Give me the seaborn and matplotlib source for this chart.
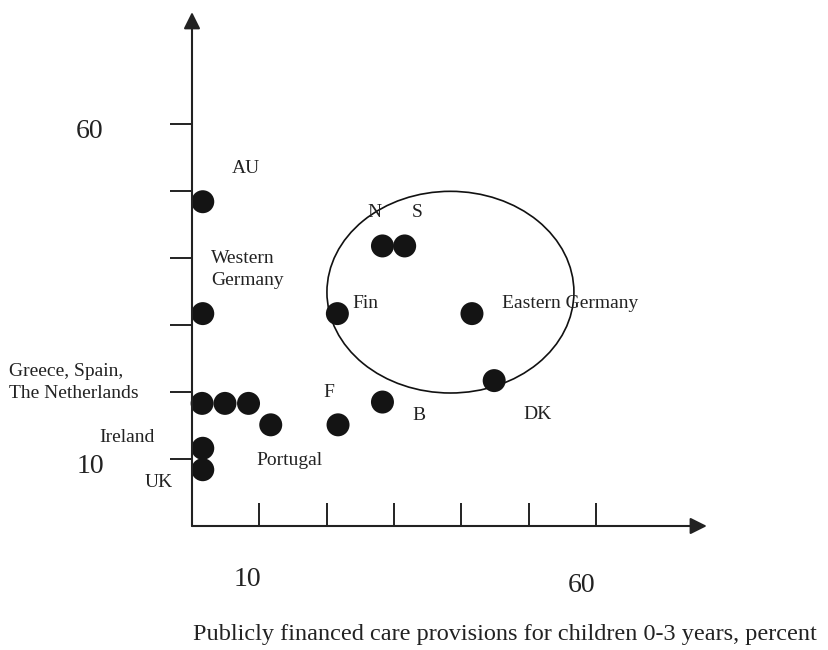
import matplotlib
matplotlib.use("Agg")
import matplotlib.pyplot as plt
from matplotlib.patches import Ellipse
import pandas as pd
import seaborn as sns

# data
countries = ["AU", "Western Germany", "Greece", "Spain", "The Netherlands",
             "Ireland", "UK", "Portugal", "F", "B", "Fin", "N", "S",
             "Eastern Germany", "DK"]
care = [1.6, 1.6, 1.5, 4.9, 8.4, 1.6, 1.6, 11.7, 21.7, 28.3, 21.6, 28.3, 31.6, 41.6, 44.9]
employment = [48.4, 31.7, 18.3, 18.3, 18.3, 11.6, 8.4, 15.1, 15.1, 18.5, 31.7, 41.8, 41.8, 31.7, 21.7]

tick_vals = [10, 20, 30, 40, 50, 60]
x_label = "Publicly financed care provisions for children 0-3 years, percent"

# label text and where it sits (left edge, baseline) in data units
label_text = ["AU", "Western\nGermany", "Greece, Spain,\nThe Netherlands", "Ireland", "UK",
              "Portugal", "F", "B", "Fin", "N", "S", "Eastern Germany", "DK"]
label_pos = [(5.9, 52.7), (2.8, 39.25), (-27.2, 22.4), (-13.8, 12.5), (-7.1, 5.8),
             (9.5, 9.1), (19.5, 19.25), (32.7, 15.8), (23.8, 32.5), (26.0, 46.1),
             (32.7, 46.1), (46.1, 32.5), (49.2, 16.0)]

df = pd.DataFrame({"country": countries, "care": care, "employment": employment})

sns.set_style("white")
plt.rcParams["font.family"] = ["Liberation Serif", "DejaVu Serif"]

fig = plt.figure(figsize=(8.29, 6.5), dpi=100)
ax = fig.add_axes([192 / 829, 124 / 650, 77 * 6.73 / 829, 77 * 6.7 / 650])

sns.scatterplot(data=df, x="care", y="employment", s=274, color="#141414",
                edgecolor="none", ax=ax, clip_on=False, zorder=3)

ax.add_patch(Ellipse((38.4, 34.9), 36.7, 30.1, fill=False, edgecolor="#111111", lw=1.2))

ax.set_xlim(0, 77)
ax.set_ylim(0, 77)
for sp in ax.spines.values():
    sp.set_visible(False)

# axis lines with arrowheads
ax.annotate("", xy=(76.5, 0), xytext=(0, 0),
            arrowprops=dict(arrowstyle="-|>", color="#222222", lw=1.5, mutation_scale=25,
                            shrinkA=0, shrinkB=0), annotation_clip=False)
ax.annotate("", xy=(0, 76.7), xytext=(0, 0),
            arrowprops=dict(arrowstyle="-|>", color="#222222", lw=1.5, mutation_scale=25,
                            shrinkA=0, shrinkB=0), annotation_clip=False)

ax.set_xticks(tick_vals)
ax.set_yticks(tick_vals)
ax.set_xticklabels([])
ax.set_yticklabels([])
ax.tick_params(axis="x", direction="in", length=16.5, width=1.4, color="#222222", bottom=True)
ax.tick_params(axis="y", direction="out", length=15.8, width=1.4, color="#222222", left=True)
ax.set_xlabel("")
ax.set_ylabel("")

for txt, (lx, ly) in zip(label_text, label_pos):
    for i, line in enumerate(txt.split("\n")):
        ax.text(lx, ly - i * 3.3, line, fontsize=14, ha="left", va="baseline", color="#222222")

# axis numbers, offset from their ticks as in the original
ax.text(-17.2, 57.9, "60", fontsize=20, ha="left", va="baseline", color="#222222")
ax.text(-17.1, 7.9, "10", fontsize=20, ha="left", va="baseline", color="#222222")
ax.text(6.2, -9.0, "10", fontsize=20, ha="left", va="baseline", color="#222222")
ax.text(55.9, -9.85, "60", fontsize=20, ha="left", va="baseline", color="#222222")

ax.text(46.5, -17.0, x_label, fontsize=17.5, ha="center", va="baseline", color="#222222")

fig.savefig("out.png", dpi=100)
